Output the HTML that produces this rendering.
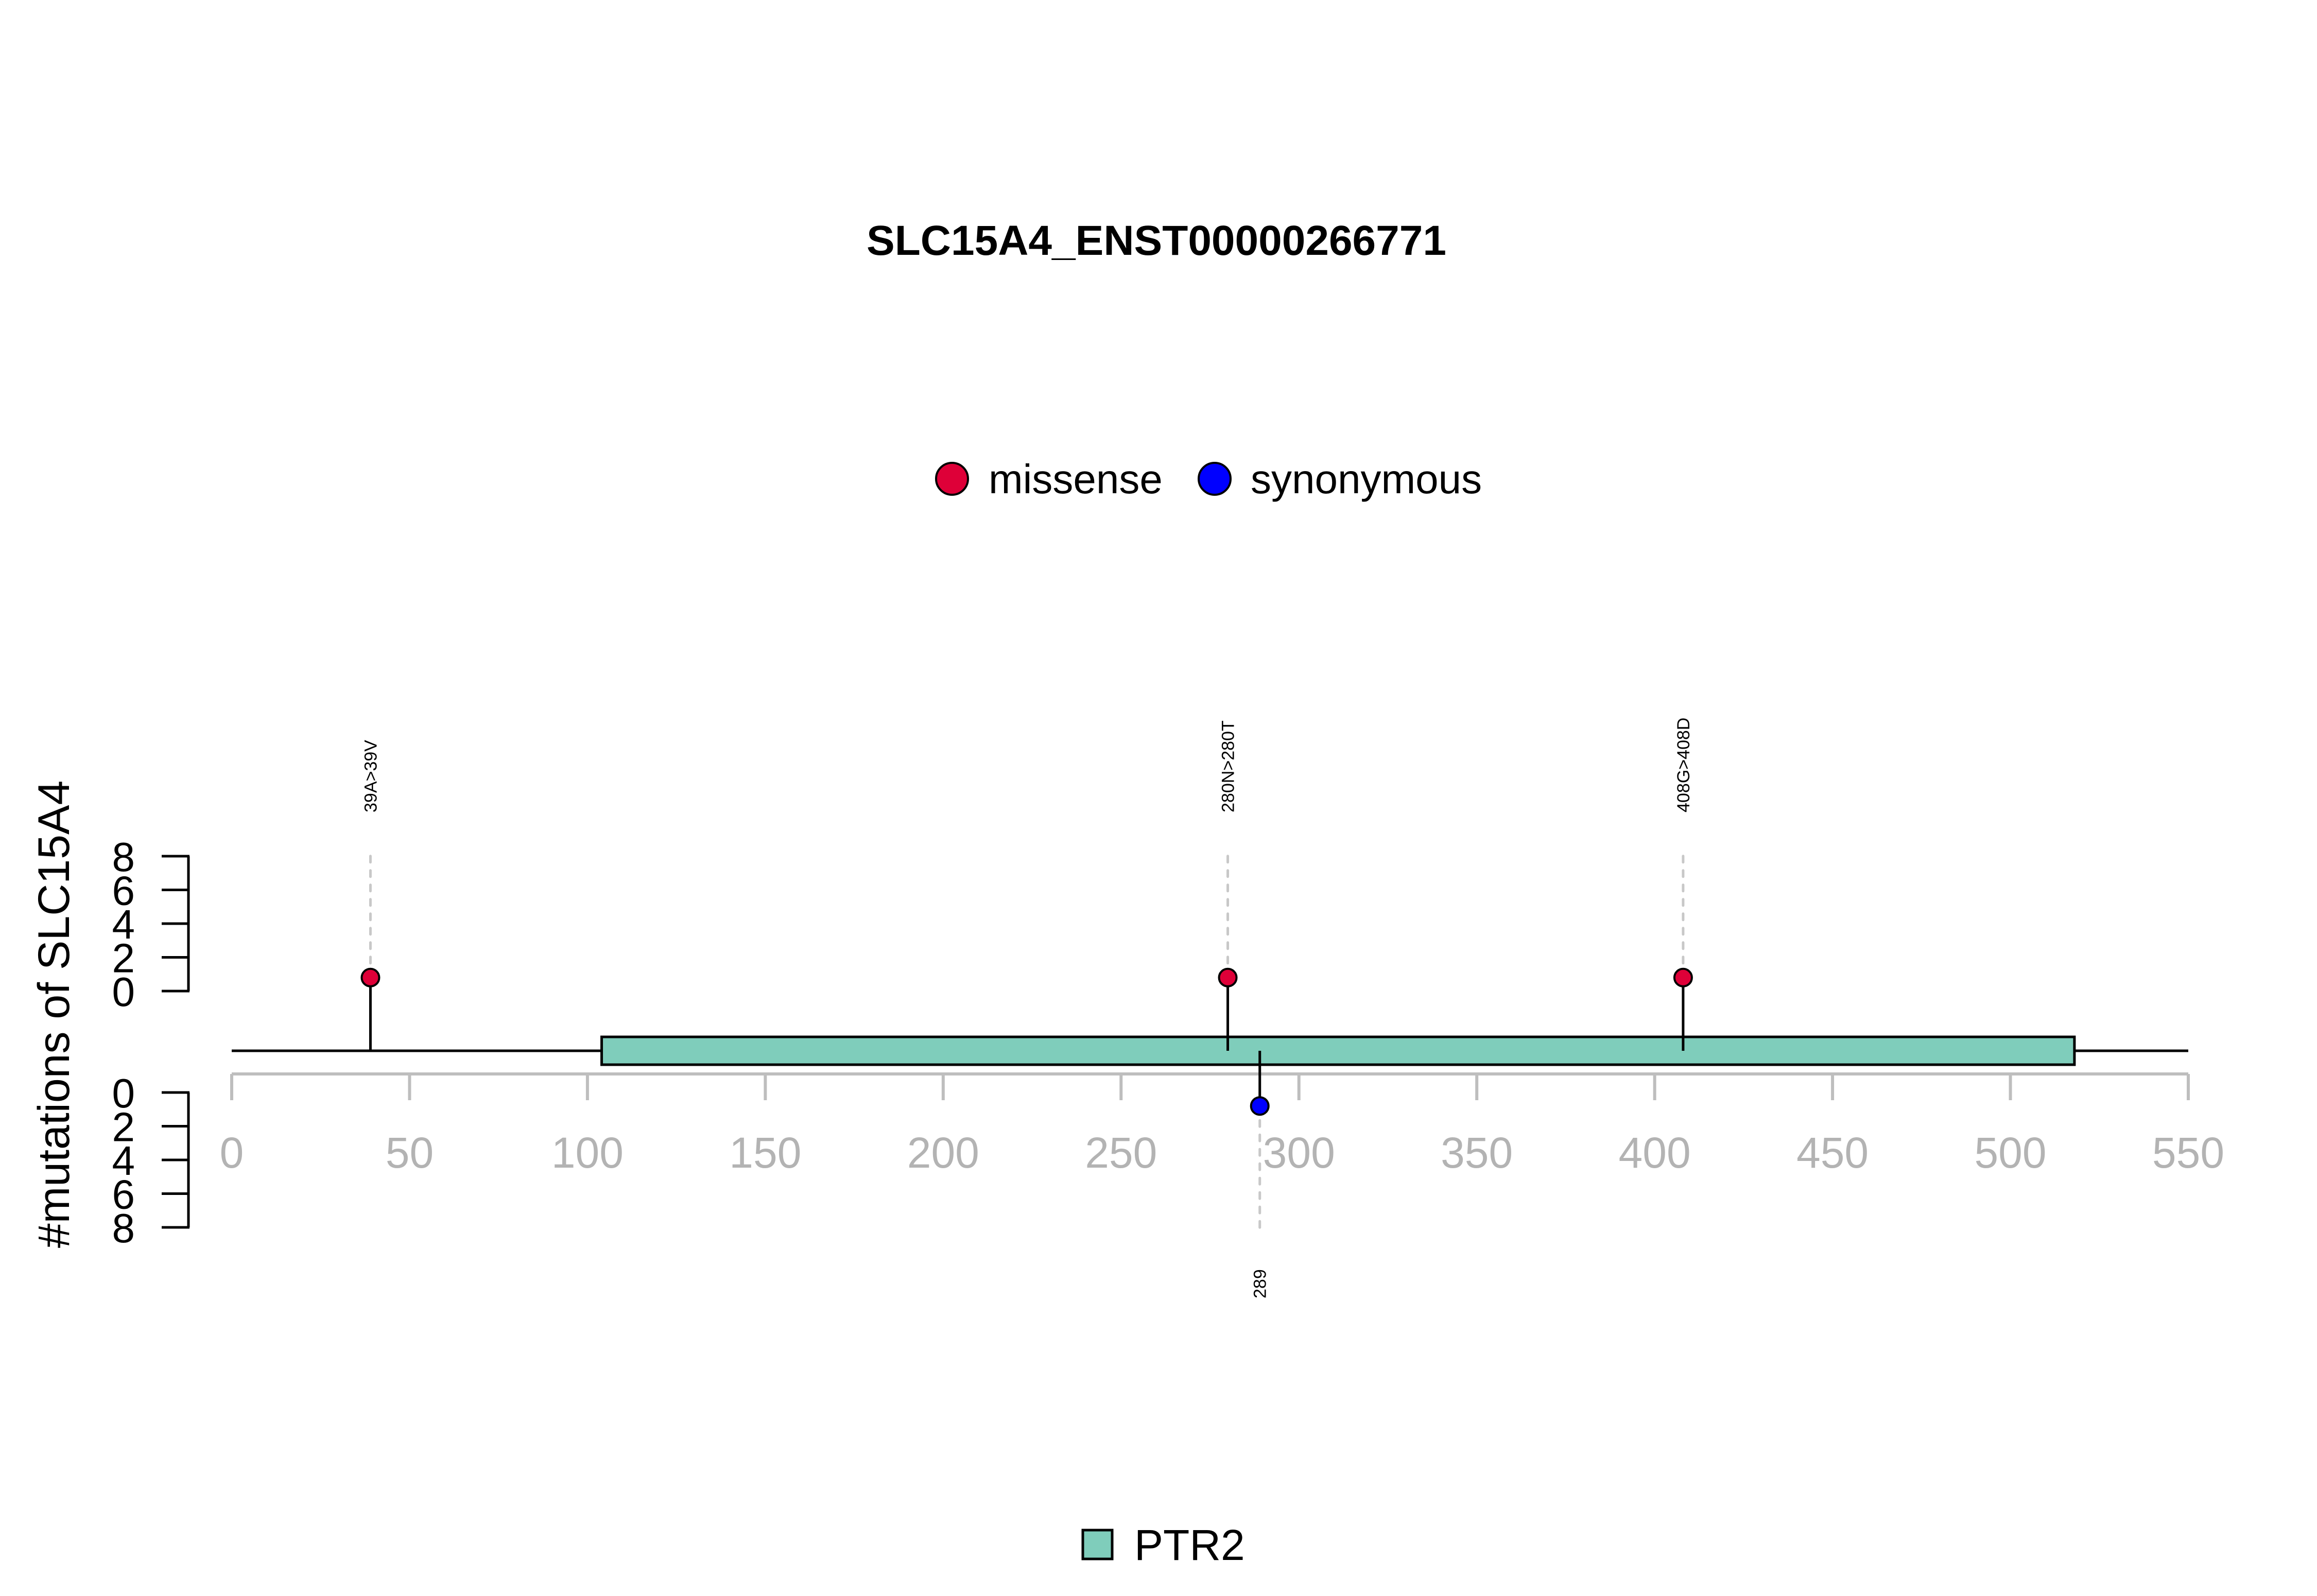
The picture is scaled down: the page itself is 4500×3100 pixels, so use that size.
<!DOCTYPE html>
<html><head><meta charset="utf-8"><style>
html,body{margin:0;padding:0;background:#fff;}
svg{display:block;font-family:"Liberation Sans",Arial,sans-serif;}
</style></head><body>
<svg id="chart" width="4500" height="3100" viewBox="0 0 4500 3100" xmlns="http://www.w3.org/2000/svg">
<rect width="4500" height="3100" fill="#fff"/>
<text x="2246" y="495" font-size="82" font-weight="bold" text-anchor="middle">SLC15A4_ENST00000266771</text>
<g>
<circle cx="1849" cy="930" r="31" fill="#DE0038" stroke="#000" stroke-width="4"/>
<text x="1920" y="958" font-size="80">missense</text>
<circle cx="2359" cy="930" r="31" fill="#0000FF" stroke="#000" stroke-width="4"/>
<text x="2429" y="958" font-size="80">synonymous</text>
</g>
<text transform="translate(134,1970) rotate(-90)" font-size="86" text-anchor="middle">#mutations of SLC15A4</text>
<g id="plot"></g>
<g>
<rect x="2103" y="2972" width="57" height="56" fill="#7FCDBB" stroke="#000" stroke-width="5"/>
<text x="2203" y="3030" font-size="84">PTR2</text>
</g>
</svg>
<script>
const xTicks = [0,50,100,150,200,250,300,350,400,450,500,550];
const yTicks = [0,2,4,6,8];
const mutPositions = [39,280,408,289];
const mutCounts = [1,1,1,1];
const mutTypes = ["missense","missense","missense","synonymous"];
const mutLabels = ["39A>39V","280N>280T","408G>408D","289"];
const domainNames = ["PTR2"];
const domainStarts = [104];
const domainEnds = [518];
const proteinLength = 550;

const NS = "http://www.w3.org/2000/svg";
const g = document.getElementById("plot");
const X = v => 450 + v * (3800 / 550);
const BASE = 2041;
const yUp = v => 1925 - v * (262 / 8);
const yDown = v => 2122 + v * (262 / 8);
function mk(tag, attrs, parent) {
  const e = document.createElementNS(NS, tag);
  for (const k in attrs) e.setAttribute(k, attrs[k]);
  (parent || g).appendChild(e);
  return e;
}
// backbone
let bb = mk("line", {x1: X(0), x2: X(proteinLength), y1: BASE, y2: BASE, stroke: "#000", "stroke-width": 5});


// x axis
let xl = mk("line", {x1: X(0), x2: X(550), y1: 2086, y2: 2086, stroke: "#BEBEBE", "stroke-width": 6});


xTicks.forEach(t => {
  let tk = mk("line", {x1: X(t), x2: X(t), y1: 2086, y2: 2137, stroke: "#BEBEBE", "stroke-width": 6});
  
  
  let tl = mk("text", {x: X(t), y: 2268, "font-size": 84, fill: "#B3B3B3", "text-anchor": "middle"});
  tl.textContent = t;
  
  
});
// y axes
[[yUp, 'upper'], [yDown, 'lower']].forEach(([f, nm]) => {
  let al = mk("line", {x1: 366, x2: 366, y1: f(0), y2: f(8), stroke: "#000", "stroke-width": 5});
  
  
  yTicks.forEach(t => {
    let tk = mk("line", {x1: 314, x2: 368, y1: f(t), y2: f(t), stroke: "#000", "stroke-width": 5});
    
    
    let tl = mk("text", {x: 262, y: f(t) + 29, "font-size": 80, "text-anchor": "end"});
    tl.textContent = t;
    
    
  });
});
// domains
domainNames.forEach((n, i) => {
  let r = mk("rect", {x: X(domainStarts[i]), y: 2014, width: X(domainEnds[i]) - X(domainStarts[i]), height: 54, fill: "#7FCDBB", stroke: "#000", "stroke-width": 5});
  
  
});
// mutations
mutPositions.forEach((p, i) => {
  const up = mutTypes[i] === "missense";
  const x = X(p);
  const cy = up ? yUp(mutCounts[i] * 0.8) : yDown(mutCounts[i] * 0.8);
  const dashEnd = up ? 1651 : 2394;
  let d = mk("line", {x1: x, x2: x, y1: cy, y2: dashEnd, stroke: "#C8C8C8", "stroke-width": 5, "stroke-dasharray": "12 16", "stroke-linecap": "round"});
  
  
  let s = mk("line", {x1: x, x2: x, y1: BASE, y2: cy, stroke: "#000", "stroke-width": 5});
  
  
  let c = mk("circle", {cx: x, cy: cy, r: 17, fill: up ? "#DE0038" : "#0000FF", stroke: "#000", "stroke-width": 4});
  
  
  const ty = up ? 1578 : 2522;
  let t = mk("text", {transform: "translate(" + (x + 12) + "," + ty + ") rotate(-90)", "font-size": 34});
  t.textContent = mutLabels[i];
  
  
});
</script>
</body></html>
